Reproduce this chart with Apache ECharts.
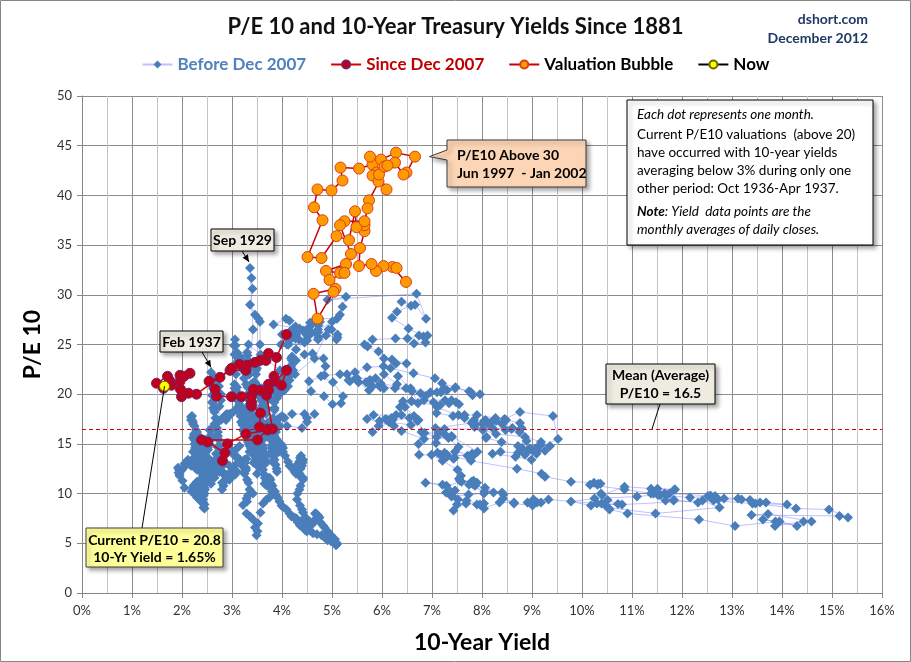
<!DOCTYPE html>
<html><head><meta charset="utf-8">
<script src="https://cdn.jsdelivr.net/npm/echarts/dist/echarts.min.js"></script>
<style>html,body{margin:0;padding:0;background:#fff}#c{width:911px;height:662px}</style>
</head><body><div id="c"></div>
<script>
const FONT = "'Liberation Sans Narrow', Lato, sans-serif";
const chartTitle = 'P/E 10 and 10-Year Treasury Yields Since 1881';
const seriesNames = ['Before Dec 2007', 'Since Dec 2007', 'Valuation Bubble', 'Now'];
const meanPE = 16.5;
const xMin = 0, xMax = 16, xStep = 1;
const yMin = 0, yMax = 50, yStep = 5;

// [10-year yield %, P/E 10] chronological
const beforeDec2007 = [
// 1881-1900
[3.70,18.5],[3.67,19.2],[3.62,19.8],[3.59,20.6],[3.55,20.5],[3.56,19.9],[3.58,19.6],[3.61,18.9],
[3.60,18.6],[3.57,18.5],[3.58,18.0],[3.54,17.9],[3.55,17.6],[3.58,17.0],[3.60,17.2],[3.57,17.3],
[3.55,17.0],[3.54,16.5],[3.52,16.4],[3.49,16.1],[3.50,15.8],[3.53,15.5],[3.55,15.0],[3.56,14.6],
[3.58,14.5],[3.61,13.9],[3.62,13.6],[3.63,13.0],[3.60,12.8],[3.57,13.1],[3.55,13.0],[3.53,12.7],
[3.50,12.9],[3.47,13.4],[3.45,13.8],[3.43,14.4],[3.40,15.2],[3.40,15.8],[3.38,16.5],[3.37,16.4],
[3.35,16.8],[3.34,16.9],[3.32,17.2],[3.30,17.3],[3.30,17.6],[3.32,17.7],[3.33,17.9],[3.35,18.2],
[3.38,18.0],[3.38,17.7],[3.40,17.5],[3.43,17.2],[3.45,16.8],[3.46,16.4],[3.50,16.2],[3.50,16.0],
[3.48,16.0],[3.47,15.7],[3.44,15.6],[3.43,15.9],[3.40,16.0],[3.40,16.3],[3.42,16.5],[3.42,16.7],
[3.40,16.8],[3.38,17.1],[3.35,17.2],[3.36,17.5],[3.38,17.6],[3.41,17.7],[3.42,17.4],[3.43,17.2],
[3.45,17.4],[3.47,17.3],[3.48,17.0],[3.51,16.5],[3.55,16.2],[3.59,15.6],[3.62,14.8],[3.61,14.4],
[3.58,14.6],[3.57,15.0],[3.55,15.2],[3.53,15.4],[3.50,15.8],[3.50,16.2],[3.48,16.4],[3.46,16.9],
[3.45,17.2],[3.44,17.6],[3.42,17.8],[3.40,17.8],[3.40,17.5],[3.43,17.3],[3.45,17.0],[3.48,16.7],
[3.50,16.2],[3.55,15.1],[3.62,14.5],[3.67,14.0],[3.70,13.2],[3.66,13.0],[3.60,13.5],[3.55,13.7],
[3.52,14.0],[3.51,14.3],[3.48,14.4],[3.48,14.7],[3.46,14.6],[3.44,14.5],[3.45,14.3],[3.46,14.1],
[3.45,14.4],[3.44,14.8],[3.42,15.0],[3.41,15.4],[3.40,15.6],[3.40,15.3],[3.42,15.3],[3.44,15.1],
[3.44,14.8],[3.47,14.6],[3.48,14.2],[3.51,13.8],[3.55,13.6],[3.51,14.0],[3.45,14.2],[3.43,14.1],
[3.40,14.4],[3.38,14.5],[3.35,14.8],[3.33,15.3],[3.30,15.6],[3.30,16.0],[3.28,16.2],[3.27,15.9],
[3.25,16.0],[3.24,16.3],[3.22,16.4],[3.21,16.9],[3.18,17.2],[3.17,17.8],[3.15,18.2],[3.13,18.8],
[3.10,19.6],[3.08,20.2],[3.05,21.0],[3.05,20.6],[3.08,20.4],[3.09,20.0],[3.12,19.8],[3.13,19.3],
[3.15,19.0],[3.17,18.6],[3.18,18.4],[3.17,18.5],[3.15,18.8],[3.14,19.3],[3.12,19.6],[3.10,20.7],
// 1901-1920
[3.08,22.0],[3.07,23.1],[3.05,24.0],[3.04,24.9],[3.06,25.5],[3.07,24.9],[3.10,24.2],[3.10,23.8],
[3.12,23.6],[3.14,23.9],[3.15,23.8],[3.17,23.6],[3.18,23.2],[3.21,22.9],[3.22,22.4],[3.24,21.6],
[3.28,21.0],[3.31,19.9],[3.35,19.0],[3.37,17.7],[3.40,16.6],[3.42,15.8],[3.45,15.2],[3.43,15.3],
[3.42,15.6],[3.42,15.9],[3.40,16.0],[3.40,16.8],[3.38,17.4],[3.37,18.3],[3.35,19.0],[3.34,19.5],
[3.35,20.2],[3.37,20.7],[3.38,21.0],[3.40,20.9],[3.40,20.6],[3.42,20.8],[3.45,21.2],[3.46,21.2],
[3.48,21.0],[3.49,20.6],[3.52,20.4],[3.54,20.2],[3.58,19.8],[3.59,19.4],[3.62,19.2],[3.64,18.7],
[3.68,18.0],[3.71,17.1],[3.75,16.0],[3.79,14.6],[3.85,13.4],[3.87,12.9],[3.90,12.2],[3.89,12.5],
[3.85,13.0],[3.83,13.7],[3.80,14.2],[3.80,14.9],[3.78,15.4],[3.78,15.9],[3.80,16.4],[3.80,16.8],
[3.78,17.0],[3.78,17.3],[3.80,17.4],[3.82,17.4],[3.82,17.6],[3.83,17.4],[3.85,17.0],[3.87,16.7],
[3.88,16.2],[3.89,15.5],[3.92,15.0],[3.92,14.6],[3.90,14.4],[3.88,14.5],[3.88,14.8],[3.90,14.9],
[3.90,15.0],[3.90,15.2],[3.92,15.2],[3.93,14.9],[3.95,14.4],[3.94,14.2],[3.92,14.2],[3.93,14.5],
[3.95,14.6],[3.96,14.9],[3.98,15.0],[3.98,14.9],[4.00,14.8],[4.02,14.6],[4.02,14.2],[4.06,13.8],
[4.12,13.2],[4.15,12.8],[4.20,12.6],[4.22,12.5],[4.25,12.2],[4.28,12.2],[4.28,12.0],[4.30,12.4],
[4.30,12.6],[4.34,13.0],[4.35,13.2],[4.36,13.6],[4.38,13.8],[4.36,13.3],[4.32,13.0],[4.29,12.6],
[4.28,12.4],[4.33,12.1],[4.35,12.0],[4.37,12.5],[4.40,12.8],[4.40,13.2],[4.42,13.4],[4.41,13.1],
[4.38,13.0],[4.35,12.9],[4.30,12.6],[4.30,12.2],[4.32,12.0],[4.37,11.7],[4.40,11.6],[4.42,11.6],
[4.42,11.4],[4.37,10.8],[4.35,10.4],[4.31,10.0],[4.30,9.4],[4.36,8.8],[4.40,8.4],[4.42,8.1],
[4.46,7.6],[4.49,7.5],[4.55,7.2],[4.57,7.0],[4.62,7.0],[4.64,7.3],[4.68,7.4],[4.71,7.5],
[4.72,7.8],[4.68,8.0],[4.66,8.0],[4.71,7.8],[4.75,7.6],[4.77,7.1],[4.82,6.8],[4.85,6.6],
[4.90,6.2],[4.93,6.1],[4.98,5.8],[5.01,5.5],[5.06,5.4],[5.07,5.1],[5.10,5.0],[5.10,4.9],
// 1921-1940
[5.08,4.8],[5.04,5.1],[4.98,5.2],[4.91,5.3],[4.85,5.6],[4.79,5.8],[4.70,5.9],[4.62,6.0],
[4.56,6.3],[4.47,6.6],[4.40,6.9],[4.36,7.2],[4.30,7.3],[4.32,7.1],[4.36,7.0],[4.41,6.9],
[4.45,6.6],[4.49,6.5],[4.50,6.2],[4.47,6.3],[4.42,6.6],[4.36,6.8],[4.32,7.2],[4.29,7.5],
[4.25,7.6],[4.19,7.7],[4.15,8.0],[4.09,8.4],[4.02,8.65],[3.99,8.8],[3.95,9.2],[3.91,9.6],
[3.88,9.8],[3.86,10.2],[3.82,10.4],[3.81,10.8],[3.78,11.0],[3.77,11.4],[3.75,11.6],[3.74,11.3],
[3.72,11.2],[3.72,10.9],[3.70,10.8],[3.69,11.3],[3.66,11.6],[3.65,11.9],[3.62,12.4],[3.61,12.8],
[3.58,13.0],[3.56,13.3],[3.52,13.8],[3.49,14.5],[3.45,15.0],[3.43,15.5],[3.40,16.2],[3.37,16.9],
[3.35,17.4],[3.34,18.0],[3.32,18.8],[3.37,19.4],[3.40,20.2],[3.43,21.2],[3.48,22.0],[3.48,22.4],
[3.50,22.6],[3.56,25.0],[3.56,27.3],[3.53,27.6],[3.46,28.0],[3.36,29.0],[3.41,30.6],[3.39,31.7],[3.36,32.7],[3.42,26.5],[3.35,22.8],[3.38,23.0],
[3.35,22.0],[3.34,22.7],[3.32,23.4],[3.31,23.9],[3.30,24.2],[3.30,23.1],[3.32,22.0],[3.31,20.7],[3.30,19.6],[3.29,18.6],[3.28,17.6],
[3.30,17.8],[3.30,18.1],[3.28,18.4],[3.28,17.4],[3.30,16.4],[3.32,15.2],[3.35,14.2],[3.43,13.1],[3.50,12.0],[3.65,11.0],[3.80,10.2],
[3.75,9.6],[3.69,9.4],[3.62,9.0],[3.57,8.1],[3.52,7.0],[3.51,6.2],[3.49,5.8],[3.46,6.6],[3.42,7.4],[3.36,7.7],[3.29,8.0],[3.22,8.85],[3.29,9.5],[3.42,10.0],
[3.30,9.2],[3.32,9.8],[3.35,10.4],[3.33,11.1],[3.30,11.4],[3.28,12.4],[3.25,13.4],[3.26,13.1],[3.28,12.6],[3.27,12.3],[3.25,12.0],
[3.22,12.7],[3.20,13.2],[3.16,13.4],[3.12,13.6],[3.09,13.0],[3.05,12.4],[3.03,12.2],[3.00,12.0],[2.98,11.7],[2.95,11.4],[2.93,11.5],[2.90,11.8],
[2.88,11.5],[2.85,11.2],[2.83,10.8],[2.80,10.4],[2.80,11.1],[2.82,12.0],[2.81,12.8],[2.78,13.6],[2.77,14.1],[2.75,14.8],[2.74,15.4],[2.72,16.2],
[2.70,16.6],[2.68,17.0],[2.67,17.6],[2.65,18.2],[2.64,18.4],[2.62,18.6],[2.62,19.1],[2.60,19.2],[2.60,19.9],[2.62,20.6],[2.60,20.9],[2.58,21.2],
[2.58,22.2],[2.63,21.8],[2.70,21.4],[2.74,20.8],[2.78,20.0],[2.78,19.4],[2.75,18.8],[2.73,17.3],[2.72,15.8],[2.71,14.7],[2.68,14.0],
[2.66,13.4],[2.62,12.8],[2.61,11.8],[2.58,11.0],[2.57,11.7],[2.55,12.6],[2.54,13.5],[2.52,14.4],[2.52,14.7],[2.50,14.8],[2.50,15.2],[2.48,15.4],
[2.45,15.4],[2.42,15.0],[2.42,14.3],[2.40,13.8],[2.38,14.1],[2.35,14.6],[2.34,15.1],[2.32,15.6],[2.32,15.3],[2.30,15.2],[2.30,14.8],[2.28,14.8],
[2.27,15.0],[2.25,15.4],[2.24,15.8],[2.22,15.6],[2.22,14.2],[2.20,13.4],[2.20,13.1],[2.18,12.8],[2.17,13.1],[2.15,13.2],[2.14,13.2],[2.12,13.4],
// 1941-1965
[2.09,13.2],[2.05,13.0],[2.03,12.6],[2.00,12.4],[1.98,12.3],[1.95,12.0],[1.94,12.4],[1.92,12.6],[1.93,12.1],[1.95,11.8],[2.01,11.3],[2.05,10.6],
[2.19,10.2],[2.35,9.6],[2.38,9.2],[2.42,9.0],[2.43,8.6],[2.45,8.5],[2.45,8.9],[2.43,9.0],[2.41,9.1],[2.42,9.4],[2.43,9.8],[2.45,10.0],
[2.46,10.4],[2.45,10.6],[2.46,11.1],[2.48,11.4],[2.48,11.8],[2.46,12.2],[2.47,12.0],[2.45,11.8],[2.45,11.6],[2.47,11.6],[2.47,11.8],[2.46,11.8],
[2.45,12.0],[2.46,12.2],[2.48,12.2],[2.49,12.4],[2.47,12.4],[2.47,12.7],[2.45,12.8],[2.44,12.8],[2.44,13.0],[2.43,13.1],[2.42,13.0],[2.41,13.3],
[2.40,13.6],[2.40,14.0],[2.38,14.2],[2.37,14.4],[2.35,14.8],[2.34,15.0],[2.32,15.4],[2.32,15.9],[2.30,16.2],[2.28,16.4],[2.25,16.8],[2.22,17.0],
[2.18,17.4],[2.18,17.7],[2.20,17.8],[2.20,17.4],[2.22,17.2],[2.24,16.0],[2.25,15.0],[2.26,14.6],[2.28,14.2],[2.28,13.9],[2.30,13.8],
[2.30,13.6],[2.30,13.2],[2.28,13.0],[2.28,12.7],[2.26,12.6],[2.30,12.4],[2.32,12.4],[2.33,12.6],[2.35,12.6],[2.37,12.3],[2.40,12.2],[2.42,11.7],
[2.45,11.4],[2.46,11.1],[2.44,11.0],[2.44,11.5],[2.42,11.8],[2.42,12.0],[2.44,12.0],[2.43,11.5],[2.40,11.2],[2.40,10.8],[2.42,10.6],
[2.42,10.5],[2.40,10.4],[2.38,10.1],[2.35,10.0],[2.33,9.7],[2.30,9.6],[2.30,9.8],[2.28,9.8],[2.27,10.1],[2.24,10.2],[2.24,10.5],[2.22,10.6],
[2.23,10.8],[2.25,10.8],[2.27,11.0],[2.30,11.0],[2.30,11.2],[2.32,11.2],[2.36,11.0],[2.38,10.8],[2.39,11.1],[2.42,11.2],[2.43,11.4],[2.46,11.4],
[2.48,12.0],[2.52,12.2],[2.58,12.0],[2.61,11.7],[2.65,11.6],[2.63,11.8],[2.62,11.8],[2.66,12.0],[2.68,12.4],[2.69,12.6],[2.72,12.6],
[2.72,12.8],[2.70,12.6],[2.68,12.8],[2.65,12.8],[2.64,12.6],[2.62,12.6],[2.67,12.9],[2.70,13.0],[2.72,12.9],[2.75,13.0],[2.76,13.3],[2.78,13.4],
[2.80,13.2],[2.87,13.1],[2.95,12.8],[3.02,12.4],[3.10,12.2],[3.06,11.9],[3.00,11.8],[2.93,12.0],[2.85,12.0],[2.81,12.2],[2.75,12.2],
[2.67,12.3],[2.58,12.6],[2.53,13.2],[2.48,13.6],[2.47,14.1],[2.45,14.4],[2.51,14.6],[2.55,15.0],[2.57,15.4],[2.60,15.6],[2.58,15.9],[2.55,16.4],
[2.61,16.6],[2.65,17.0],[2.71,17.3],[2.78,17.4],[2.81,17.6],[2.85,17.6],[2.87,17.9],[2.90,18.0],[2.90,17.6],[2.88,17.4],[2.89,17.7],[2.92,17.8],
[2.95,18.0],[2.98,18.0],[3.04,18.3],[3.10,18.4],[3.17,18.1],[3.25,17.6],[3.23,17.9],[3.20,18.0],[3.26,17.5],[3.30,17.2],[3.41,17.2],[3.55,17.0],
[3.47,16.4],[3.40,16.0],[3.38,15.7],[3.35,15.6],[3.56,15.8],[3.75,16.2],[3.79,16.1],[3.85,15.8],[3.81,14.8],[3.75,14.0],[3.66,13.8],[3.55,13.4],
[3.29,13.5],[3.05,13.8],[3.03,14.1],[3.00,14.2],[3.07,14.4],[3.15,14.8],[3.41,15.1],[3.65,15.6],[3.71,16.1],[3.80,16.4],[3.83,16.6],[3.85,17.0],
[4.05,17.6],[4.00,17.8],[4.20,18.0],[4.45,18.0],[4.50,17.6],[4.65,18.0],
[4.50,17.2],[4.40,16.6],[4.10,16.8],[3.90,17.4],[3.80,16.8],[3.85,17.2],
[3.85,18.6],[3.80,19.4],[3.88,20.0],[3.90,20.6],[3.98,20.4],[4.00,21.2],
[4.05,21.6],[3.95,20.8],[3.85,18.4],[3.95,16.8],[3.95,17.6],[3.85,18.6],
[3.85,19.2],[3.90,19.6],[3.95,20.0],[4.00,20.6],[4.05,20.4],[4.12,20.8],
[4.15,21.4],[4.15,21.8],[4.20,22.4],[4.18,22.8],[4.18,22.6],[4.20,23.0],
[4.20,23.4],[4.18,23.6],[4.20,23.8],[4.22,22.4],[4.28,23.4],[4.45,24.0],
// 1966-1979
[4.61,24.1],[4.83,23.6],[4.87,22.8],[4.78,21.8],[5.02,21.2],[5.22,19.8],[5.18,19.1],[5.01,19.0],[4.84,19.8],
[4.58,20.3],[4.54,21.3],[4.85,21.9],[5.16,22.0],[5.30,22.0],[5.48,21.6],[5.75,21.1],
[5.53,21.2],[5.74,20.4],[5.87,21.6],[5.50,21.6],[5.46,22.2],[5.70,22.7],[6.03,22.8],
[6.04,22.0],[6.30,21.0],[6.32,21.8],[6.57,20.6],[6.72,19.1],[7.16,18.9],[7.10,18.7],[7.65,17.6],
[7.79,17.1],[7.07,16.6],[7.39,15.8],[7.91,14.2],[7.84,13.9],[7.46,14.2],[7.53,14.7],[7.33,15.6],[6.84,15.5],[6.39,16.3],
[6.24,16.8],[5.70,17.5],[5.83,17.9],[6.39,17.9],[6.73,17.4],[6.58,16.9],[6.14,17.2],[5.81,16.2],[5.93,16.8],
[5.95,17.3],[6.07,17.5],[6.19,17.6],[6.11,17.4],[6.21,17.4],[6.55,17.6],[6.28,17.9],[6.36,18.7],
[6.46,18.7],[6.64,17.8],[6.71,17.3],[6.85,16.1],[7.13,16.1],[7.40,15.7],[7.09,15.7],[6.79,16.2],[6.73,15.0],[6.74,13.9],
[6.99,13.9],[7.21,13.3],[7.51,12.4],[7.58,11.8],[7.54,11.5],[7.81,11.0],[8.04,10.0],[8.04,9.0],[7.90,8.9],[7.68,9.0],[7.43,8.3],
[7.50,8.9],[7.39,9.7],[7.73,9.9],[8.23,10.1],[8.06,10.6],[7.86,10.8],[8.40,10.1],[8.43,9.9],[8.05,10.2],
[7.74,10.9],[7.79,11.2],[7.56,11.3],[7.90,11.1],[7.83,11.3],[7.59,11.2],[7.29,10.8],[6.87,11.1],
[7.21,10.9],[7.46,10.3],[7.37,10.2],[7.28,10.1],[7.40,9.8],[7.52,9.4],[7.69,9.3],
[7.96,8.9],[8.04,8.5],[8.35,9.1],[8.64,9.1],[8.42,9.5],[8.64,9.0],[9.01,8.8],
[9.10,9.1],[9.18,9.1],[8.91,9.1],[9.03,9.4],[9.33,9.4],[10.30,9.0],[10.39,9.0],
// 1980-1991
[10.80,8.9],[12.41,9.3],[12.75,8.6],[11.47,8.0],[10.18,8.8],[9.78,9.2],[10.25,9.5],[11.10,9.7],[11.51,9.9],[11.75,10.0],[12.66,9.76],[12.84,9.5],
[12.57,9.8],[13.19,9.4],[13.12,9.5],[13.68,9.1],[14.10,8.9],[13.47,9.0],[14.28,8.5],[14.94,8.4],[15.32,7.6],[15.15,7.75],[13.39,7.85],[13.72,7.95],
[14.59,7.2],[14.43,7.2],[13.86,6.75],[13.87,7.2],[13.62,7.4],[14.30,6.75],[13.95,7.2],[13.06,6.74],[12.34,7.4],[10.91,8.0],[10.55,8.4],[10.54,8.5],
[10.46,8.85],[10.72,8.95],[10.51,9.36],[10.40,9.86],[10.38,10.0],[10.85,10.7],[11.38,10.5],[11.85,10.4],[11.65,10.0],[11.54,9.86],[11.69,9.86],[11.83,9.3],
[11.67,9.3],[11.84,9.36],[12.32,9.1],[12.63,9.3],[13.41,9.0],[13.56,9.1],[13.36,9.36],[12.72,9.4],[12.52,9.76],[12.16,9.6],[11.57,9.86],[11.50,10.0],
[11.38,10.0],[11.51,10.5],[11.86,10.4],[11.43,10.0],[10.85,10.4],[10.16,10.9],[10.31,10.9],[10.33,11.0],[10.37,11.0],[10.24,11.1],[9.78,11.2],[9.26,11.7],
[9.19,12.0],[8.70,12.5],[7.78,13.3],[7.30,13.9],[7.71,13.8],[7.80,14.0],[7.30,13.7],[7.17,13.9],[7.45,13.6],[7.43,13.5],[7.25,14.1],[7.11,14.1],
[7.08,15.1],[7.25,16.0],[7.25,16.5],[8.02,16.5],[8.61,16.6],[8.40,17.0],[8.45,17.5],[8.76,18.2],[9.42,17.8],[9.52,15.5],[8.86,13.9],[8.99,13.4],
[8.67,13.7],[8.21,14.0],[8.37,14.2],[8.72,14.1],[9.09,14.0],[8.92,14.4],[9.06,14.5],[9.26,14.3],[8.98,14.4],[8.80,14.6],[8.96,14.5],[9.11,14.3],
[9.09,14.6],[9.17,14.9],[9.36,14.8],[9.18,15.2],[8.86,15.7],[8.28,16.0],[8.02,16.4],[8.11,17.1],[8.19,17.2],[8.01,17.0],[7.87,17.0],[7.84,17.4],
[8.21,16.6],[8.47,16.4],[8.59,16.5],[8.79,16.6],[8.76,17.1],[8.48,17.4],[8.47,17.4],[8.75,16.2],[8.89,15.3],[8.72,14.8],[8.39,15.2],[8.08,15.6],
[8.09,15.7],[7.85,16.7],[8.11,17.1],[8.04,17.3],[8.07,17.4],[8.28,17.3],[8.27,17.6],[7.90,17.9],[7.65,17.9],[7.53,17.9],[7.42,17.8],[7.09,18.1],
// 1992-May 1997
[7.03,19.2],[7.34,19.1],[7.54,19.0],[7.48,19.2],[7.39,19.4],[7.26,19.4],[6.84,19.4],[6.59,19.3],[6.42,19.3],[6.59,19.3],[6.87,19.8],[6.77,20.1],
[6.60,20.3],[6.26,20.6],[5.98,20.8],[5.97,20.7],[6.04,20.6],[5.96,20.9],[5.81,20.8],[5.68,21.2],[5.36,21.3],[5.33,21.4],[5.72,21.2],[5.77,21.4],
[5.75,21.4],[5.97,21.1],[6.48,20.6],[6.97,20.2],[7.18,20.2],[7.10,20.2],[7.30,20.4],[7.24,20.6],[7.46,20.6],[7.74,20.3],[7.96,20.0],[7.81,19.9],
[7.78,20.2],[7.47,20.7],[7.20,21.1],[7.06,21.6],[6.63,22.1],[6.17,22.6],[6.28,23.1],[6.49,23.1],[6.20,23.5],[6.04,23.6],[5.93,24.3],[5.71,24.8],
[5.65,25.0],[5.81,25.5],[6.27,25.6],[6.51,25.6],[6.74,25.9],[6.91,25.9],[6.87,25.2],[6.64,25.1],[6.83,25.8],[6.53,26.6],[6.20,27.7],[6.30,28.3],
[6.58,28.9],[6.39,29.3],[6.66,29.0],[6.88,27.6],[6.69,30.1],
// Feb 2002-Nov 2007
[4.91,29.5],[5.28,29.8],[5.21,28.8],[5.16,28.0],[4.93,26.5],[4.65,23.6],[4.26,22.0],[3.87,20.5],[3.94,20.0],[4.05,22.0],[4.03,21.6],
[4.05,21.6],[3.90,21.0],[3.81,21.0],[3.96,22.4],[3.57,24.0],[3.33,25.0],[3.98,25.0],[4.45,25.2],[4.27,25.6],[4.29,26.0],[4.30,26.4],[4.27,26.8],
[4.15,27.4],[4.08,27.6],[3.83,27.0],[4.35,26.6],[4.72,25.5],[4.73,25.7],[4.50,25.4],[4.28,24.5],[4.13,25.0],[4.10,25.0],[4.19,26.2],[4.23,26.6],
[4.22,26.3],[4.17,26.3],[4.50,25.9],[4.34,25.5],[4.14,25.5],[4.00,26.0],[4.18,26.4],[4.26,26.2],[4.20,26.0],[4.46,25.3],[4.54,25.9],[4.47,26.4],
[4.42,26.4],[4.57,26.2],[4.72,26.2],[4.99,26.5],[5.11,26.0],[5.11,25.7],[5.09,25.5],[4.88,25.9],[4.72,26.5],[4.73,26.9],[4.60,27.2],[4.56,27.2],
[4.76,27.3],[4.72,27.4],[4.56,26.8],[4.69,27.3],[4.75,27.6],[5.10,27.6],[5.00,27.3],[4.67,26.2],[4.52,26.1],[4.53,26.5],[4.15,25.4]
];

// Jun 1997 - Jan 2002
const valuationBubble = [
[6.48,31.3],[6.21,32.8],[6.29,32.7],[6.03,32.9],[5.88,32.4],[5.79,33.1],[5.54,32.9],[5.56,34.7],
[5.65,36.4],[5.65,37.0],[5.49,36.8],[5.46,38.4],[5.34,35.5],[5.09,35.9],[4.79,33.7],[4.51,33.8],
[4.81,37.5],[4.64,38.8],[4.71,40.6],[4.99,40.5],[5.21,41.5],[5.17,42.8],[5.54,42.7],[5.81,43.1],
[5.89,42.3],[5.81,42.0],[5.93,41.4],[6.09,40.6],[5.94,42.1],[5.76,43.9],[5.98,43.6],[6.28,44.3],
[6.66,43.9],[6.49,42.3],[6.43,42.1],[6.26,43.3],[6.05,42.9],[6.11,43.0],[5.74,39.5],[5.71,38.7],
[5.65,37.4],[5.25,37.4],[5.16,37.0],[5.38,34.1],[5.28,33.1],[4.88,32.4],[5.16,32.2],[5.25,32.2],
[4.95,31.5],[5.07,30.6],[4.63,30.1],[4.71,27.6],[5.03,30.3]
];

// Dec 2007 - Nov 2012
const sinceDec2007 = [
[4.09,26.0],[3.89,23.7],[3.84,21.8],[3.86,21.3],[4.09,22.4],[3.99,20.9],[3.73,21.0],[3.69,19.9],
[3.81,16.5],[3.71,16.5],[3.51,15.4],[2.39,15.4],[2.51,15.2],[2.86,14.1],[2.81,13.3],[2.91,15.0],
[3.28,16.0],[3.71,16.4],[3.55,16.7],[3.57,18.1],[3.39,18.8],[3.39,19.2],[3.39,19.8],[3.73,20.4],
[3.56,20.4],[3.43,20.5],[3.19,19.75],[2.99,19.75],[2.69,19.8],[2.66,20.5],[2.54,21.3],[2.76,21.7],
[2.96,22.4],[3.28,22.4],[3.29,22.9],[3.46,23.2],[3.56,23.4],[3.68,23.4],[3.73,24.1],[3.15,23.0],
[2.99,22.6],[2.29,20.0],[1.99,19.75],[2.13,20.1],[1.97,20.5],[1.96,21.3],[1.96,21.9],[2.16,22.1],
[2.04,21.8],[1.79,20.9],[1.63,20.6],[1.49,21.1],[1.71,21.8],[1.75,21.4],[1.65,20.8]
];

const nowPoint = [[1.65,20.8]];
const sep1929 = [3.36,32.7];
const feb1937 = [2.58,22.2];
const bubbleNote = [6.95,43.9];
const meanNoteAt = [11.4,16.5];

const chart = echarts.init(document.getElementById('c'), null, {renderer:'canvas'});

const option = {
  animation: false,
  backgroundColor: '#fff',
  title: {
    text: chartTitle, left: 'center', top: 11,
    textStyle: {fontFamily: FONT, fontSize: 22, fontWeight: 'bold', color: '#111'}
  },
  legend: {
    top: 51, left: 'center', itemWidth: 30, itemHeight: 10, itemGap: 24,
    textStyle: {fontFamily: FONT, fontSize: 17, fontWeight: 'bold', color: '#000'},
    data: [
      {name: seriesNames[0], textStyle: {color: '#4f81bd'}},
      {name: seriesNames[1], textStyle: {color: '#c00000'}},
      {name: seriesNames[2], textStyle: {color: '#000'}},
      {name: seriesNames[3], textStyle: {color: '#000'}}
    ]
  },
  grid: {left: 82, right: 29, top: 96, bottom: 69},
  xAxis: {
    type: 'value', min: xMin, max: xMax, interval: xStep,
    name: '10-Year Yield', nameLocation: 'middle', nameGap: 38,
    nameTextStyle: {fontFamily: FONT, fontSize: 23, fontWeight: 'bold', color: '#000'},
    axisLine: {show: true, lineStyle: {color: '#868686'}},
    axisTick: {show: true, length: 5, lineStyle: {color: '#868686'}},
    axisLabel: {formatter: v => v + '%', fontFamily: FONT, fontSize: 13, color: '#333', margin: 11},
    splitLine: {show: true, lineStyle: {color: '#8c8c8c', width: 1}},
    minorTick: {show: false, splitNumber: 2},
    minorSplitLine: {show: true, lineStyle: {color: '#c4c4c4', width: 1}}
  },
  yAxis: {
    type: 'value', min: yMin, max: yMax, interval: yStep,
    name: 'P/E 10', nameLocation: 'middle', nameGap: 38, nameRotate: 90,
    nameTextStyle: {fontFamily: FONT, fontSize: 23, fontWeight: 'bold', color: '#000'},
    axisLine: {show: true, lineStyle: {color: '#868686'}},
    axisTick: {show: true, length: 5, lineStyle: {color: '#868686'}},
    axisLabel: {fontFamily: FONT, fontSize: 13, color: '#333', margin: 10},
    splitLine: {show: true, lineStyle: {color: '#8c8c8c', width: 1}}
  },
  series: [
    {
      name: seriesNames[0], type: 'line', data: beforeDec2007, showAllSymbol: true,
      symbol: 'diamond', symbolSize: 10,
      itemStyle: {color: '#4a7ebb'},
      lineStyle: {color: 'rgba(130,130,255,0.5)', width: 1},
      emphasis: {disabled: true}, z: 2,
      markLine: {
        silent: true, symbol: 'none', label: {show: false},
        lineStyle: {color: '#e00000', type: [4, 3], width: 1, opacity: 1},
        data: [{yAxis: meanPE, lineStyle: {color: '#e00000'}}]
      }
    },
    {
      name: seriesNames[1], type: 'line', data: sinceDec2007, showAllSymbol: true,
      symbol: 'circle', symbolSize: 10,
      itemStyle: {color: '#c0001c', borderColor: '#7a2060', borderWidth: 1},
      lineStyle: {color: '#d40000', width: 1.5},
      emphasis: {disabled: true}, z: 4
    },
    {
      name: seriesNames[2], type: 'line', data: valuationBubble, showAllSymbol: true,
      symbol: 'circle', symbolSize: 11,
      itemStyle: {color: '#ff9a00', borderColor: '#d8401a', borderWidth: 1},
      lineStyle: {color: '#c8000a', width: 1.5},
      emphasis: {disabled: true}, z: 3
    },
    {
      name: seriesNames[3], type: 'line', data: nowPoint, showAllSymbol: true,
      symbol: 'circle', symbolSize: 10,
      itemStyle: {color: '#ffff00', borderColor: '#6b6b00', borderWidth: 1},
      lineStyle: {color: '#000', width: 1.5},
      emphasis: {disabled: true}, z: 6
    }
  ]
};
chart.setOption(option);

const P = d => chart.convertToPixel({gridIndex: 0}, d);
const shadow = {shadowBlur: 4, shadowOffsetX: 3, shadowOffsetY: 3, shadowColor: 'rgba(0,0,0,0.35)'};
function box(x, y, w, h, fill, stroke) {
  return {type: 'rect', shape: {x, y, width: w, height: h}, z: 20,
    style: Object.assign({fill, stroke: stroke || '#000', lineWidth: 1}, shadow)};
}
function txt(x, y, text, font, align, color) {
  return {type: 'text', x, y, z: 21,
    style: {text, font, fill: color || '#000', align: align || 'center', verticalAlign: 'middle'}};
}
function line(x1, y1, x2, y2) {
  return {type: 'line', z: 19, shape: {x1, y1, x2, y2}, style: {stroke: '#000', lineWidth: 1}};
}
function head(x1, y1, x2, y2) {
  const a = Math.atan2(y2 - y1, x2 - x1), L = 7, W = 3.2;
  const bx = x2 - L * Math.cos(a), by = y2 - L * Math.sin(a);
  return {type: 'polygon', z: 19, shape: {points: [[x2, y2], [bx + W * Math.sin(a), by - W * Math.cos(a)], [bx - W * Math.sin(a), by + W * Math.cos(a)]]},
    style: {fill: '#000'}};
}
const B13 = "bold 14px " + FONT;
const I13 = "italic 13.5px " + FONT;
const N13 = "13.5px " + FONT;

const pSep = P(sep1929), pFeb = P(feb1937), pBub = P(bubbleNote), pMean = P(meanNoteAt), pNow = P(nowPoint[0]);
const sepTip = [pSep[0] - 1, pSep[1] - 6];
const febTip = [pFeb[0], pFeb[1] - 5];

const graphics = [
  {type: 'rect', shape: {x: 0.5, y: 0.5, width: 910, height: 661}, style: {fill: 'none', stroke: '#868686', lineWidth: 1}, z: 30},
  txt(868, 19, 'dshort.com', "bold 14px " + FONT, 'right', '#1f3864'),
  txt(868, 38, 'December 2012', "bold 14px " + FONT, 'right', '#1f3864'),
  // info box
  box(627, 100, 246, 145, '#fff', '#000'),
  txt(637, 115, 'Each dot represents one month.', I13, 'left'),
  txt(637, 135, 'Current P/E10 valuations  (above 20)', N13, 'left'),
  txt(637, 153, 'have occurred with 10-year yields', N13, 'left'),
  txt(637, 171, 'averaging below 3% during only one', N13, 'left'),
  txt(637, 189, 'other period: Oct 1936-Apr 1937.', N13, 'left'),
  {type: 'text', x: 637, y: 212, z: 21, style: {text: '{b|Note}{i|: Yield  data points are the}', verticalAlign: 'middle', align: 'left',
    rich: {b: {font: "italic bold 13.5px " + FONT, fill: '#000'}, i: {font: I13, fill: '#000'}}}},
  txt(637, 230, 'monthly averages of daily closes.', I13, 'left'),
  // bubble callout
  {type: 'polygon', z: 20, shape: {points: [[447, 140], [586, 140], [586, 187], [447, 187], [447, 160], [pBub[0], pBub[1]], [447, 150]]},
    style: Object.assign({fill: '#fbd5b5', stroke: '#3a3a3a', lineWidth: 1}, shadow)},
  txt(457, 155, 'P/E10 Above 30', B13, 'left'),
  txt(457, 173, 'Jun 1997  - Jan 2002', B13, 'left'),
  // Sep 1929
  line(242, 251, sepTip[0], sepTip[1]), head(242, 251, sepTip[0], sepTip[1]),
  box(211, 229, 63, 22, '#eeece1', '#000'),
  txt(242.5, 240.5, 'Sep 1929', B13),
  // Feb 1937
  line(202, 352, febTip[0], febTip[1]), head(202, 352, febTip[0], febTip[1]),
  box(160, 331, 63, 21, '#eeece1', '#000'),
  txt(191.5, 342, 'Feb 1937', B13),
  // Mean
  line(660, 404, pMean[0], pMean[1]),
  box(606, 364, 109, 40, '#eeece1', '#000'),
  txt(660.5, 375, 'Mean (Average)', B13),
  txt(660.5, 393, 'P/E10 = 16.5', B13),
  // Now
  line(142, 528, pNow[0], pNow[1]),
  box(86, 528, 137, 39, '#ffff99', '#404040'),
  txt(154.5, 540, 'Current P/E10 = 20.8', B13),
  txt(154.5, 557, '10-Yr Yield = 1.65%', B13)
];
chart.setOption({graphic: graphics});
</script>
</body></html>
